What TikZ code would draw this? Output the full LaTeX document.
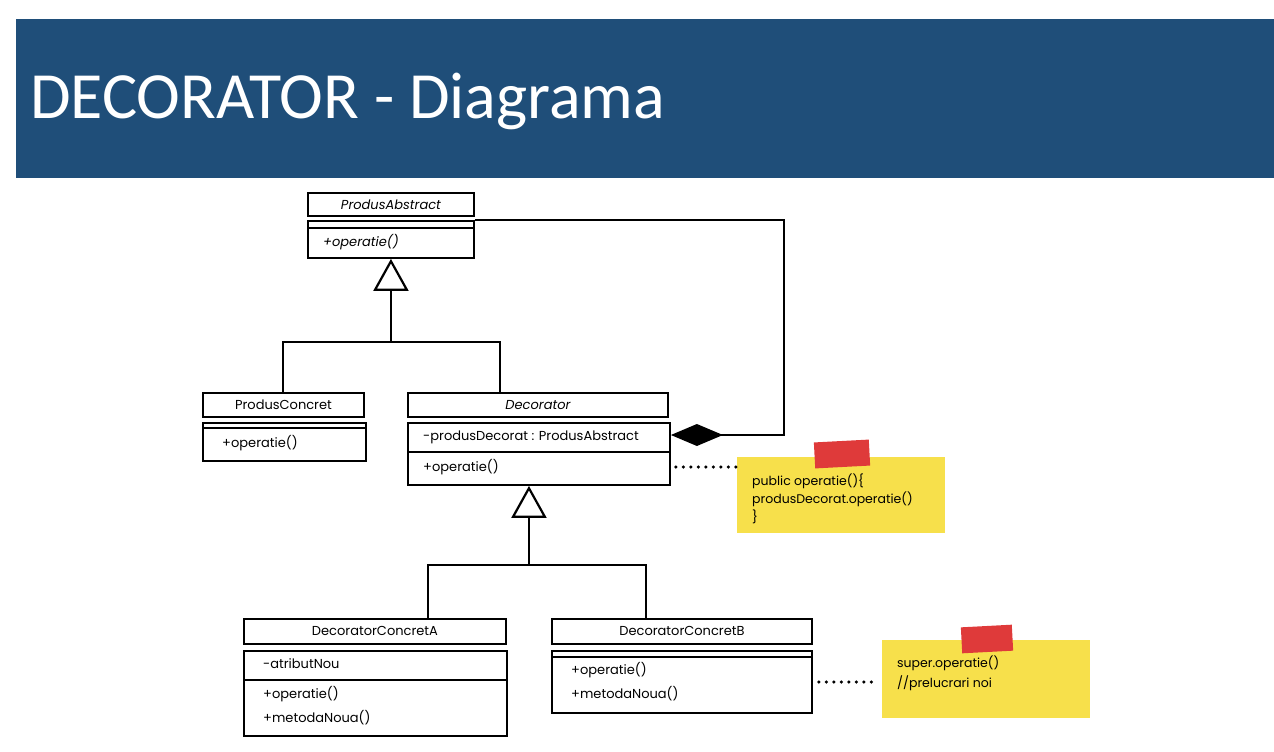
\documentclass[tikz,border=0pt]{standalone}
\usepackage{fontspec}
\setmainfont{Carlito}
\newfontfamily\sketchfont{Poppins}
\usetikzlibrary{arrows.meta,positioning}
\definecolor{bannerblue}{HTML}{1F4E79}
\definecolor{noteyellow}{HTML}{F7E04B}
\definecolor{tapered}{HTML}{DF3A3A}

\begin{document}
\begin{tikzpicture}[x=1pt,y=-1pt,
  classhead/.style={draw,line width=1.9pt,anchor=north west,inner sep=0pt,
    font=\sketchfont\fontsize{13}{15}\selectfont},
  classbody/.style={draw,line width=1.9pt,anchor=north west,inner sep=0pt},
  member/.style={anchor=west,inner sep=0pt,font=\sketchfont\fontsize{13}{15}\selectfont},
  sepline/.style={line width=1.5pt},
  link/.style={line width=2pt},
  generalize/.style={link,-{Triangle[open,length=32pt,width=35pt,line width=2.2pt]}},
  aggregate/.style={link,-{Diamond[length=52pt,width=22pt]}},
  notelink/.style={line width=3.5pt,line cap=round,dash pattern=on 0pt off 7.5pt},
  note/.style={fill=noteyellow,anchor=north west,inner sep=0pt},
  tape/.style={fill=tapered,inner sep=0pt,minimum width=55pt,minimum height=26pt},
  notetext/.style={anchor=west,inner sep=0pt,align=left,
    font=\sketchfont\fontsize{12.5}{14}\selectfont}]
\useasboundingbox (0,0) rectangle (1274,752);

% title banner
\fill[bannerblue] (16,19) rectangle (1274,178);
\node[anchor=base west,inner sep=0pt,text=white,font=\fontsize{66}{66}\selectfont] (title) at (30,118) {DECORATOR - Diagrama};

% ProdusAbstract
\node[classhead,minimum width=166pt,minimum height=23pt] (pahead) at (307,192) {\itshape ProdusAbstract};
\node[classbody,minimum width=166pt,minimum height=37pt] (pabody) at (307,220) {};
\draw[sepline] ([yshift=-8pt]pabody.north west) -- ([yshift=-8pt]pabody.north east);
\node[member] (paop) at ([xshift=16pt,yshift=-22pt]pabody.north west) {\itshape +operatie()};

% ProdusConcret
\node[classhead,minimum width=161pt,minimum height=24pt] (pchead) at (202,392) {ProdusConcret};
\node[classbody,minimum width=163pt,minimum height=38pt] (pcbody) at (202,422) {};
\draw[sepline] ([yshift=-6pt]pcbody.north west) -- ([yshift=-6pt]pcbody.north east);
\node[member] (pcop) at ([xshift=20pt,yshift=-21pt]pcbody.north west) {+operatie()};

% Decorator
\node[classhead,minimum width=260pt,minimum height=24pt] (dechead) at (407,392) {\itshape Decorator};
\node[classbody,minimum width=262pt,minimum height=62pt] (decbody) at (407,422) {};
\node[member] (decattr) at ([xshift=16pt,yshift=-15pt]decbody.north west) {-produsDecorat : ProdusAbstract};
\draw[sepline] ([yshift=-30pt]decbody.north west) -- ([yshift=-30pt]decbody.north east);
\node[member] (decop) at ([xshift=16pt,yshift=-45pt]decbody.north west) {+operatie()};

% DecoratorConcretA
\node[classhead,minimum width=262pt,minimum height=25pt] (dcahead) at (243,618) {DecoratorConcretA};
\node[classbody,minimum width=263pt,minimum height=85pt] (dcabody) at (243,650) {};
\node[member] (dcaattr) at ([xshift=20pt,yshift=-14pt]dcabody.north west) {-atributNou};
\draw[sepline] ([yshift=-30pt]dcabody.north west) -- ([yshift=-30pt]dcabody.north east);
\node[member] (dcaop) at ([xshift=20pt,yshift=-44pt]dcabody.north west) {+operatie()};
\node[member] (dcanew) at ([xshift=20pt,yshift=-68pt]dcabody.north west) {+metodaNoua()};

% DecoratorConcretB
\node[classhead,minimum width=260pt,minimum height=25pt] (dcbhead) at (551,618) {DecoratorConcretB};
\node[classbody,minimum width=260pt,minimum height=62pt] (dcbbody) at (551,650) {};
\draw[sepline] ([yshift=-7pt]dcbbody.north west) -- ([yshift=-7pt]dcbbody.north east);
\node[member] (dcbop) at ([xshift=20pt,yshift=-20pt]dcbbody.north west) {+operatie()};
\node[member] (dcbnew) at ([xshift=20pt,yshift=-44pt]dcbbody.north west) {+metodaNoua()};

% notes
\node[note,minimum width=208pt,minimum height=76pt] (note1) at (737,457) {};
\node[tape,rotate=3] (tape1) at (842,454) {};
\node[notetext] (note1txt) at ([xshift=15pt,yshift=-42pt]note1.north west)
  {public operatie()\{\\[2pt]produsDecorat.operatie()\\[2pt]\}};
\node[note,minimum width=208pt,minimum height=78pt] (note2) at (882,640) {};
\node[tape,rotate=3,minimum width=51pt] (tape2) at (987,639) {};
\node[notetext] (note2txt) at ([xshift=15pt,yshift=-33pt]note2.north west)
  {super.operatie()\\[4pt]//prelucrari noi};

% generalization
\coordinate (pajoin) at ([yshift=-83pt]pabody.south);
\draw[generalize] (pajoin) -- (pabody.south);
\draw[link] (pchead.north) |- (pajoin) -| ([xshift=93pt]dechead.north west);
\coordinate (decjoin) at ([xshift=-10pt,yshift=-79pt]decbody.south);
\draw[generalize] (decjoin) -- ([xshift=-10pt]decbody.south);
\draw[link] ([xshift=185pt]dcahead.north west) |- (decjoin) -| ([xshift=95pt]dcbhead.north west);

% aggregation
\draw[aggregate] (pabody.north east) -- ++(309,0) |- ([yshift=-13pt]decbody.north east);

% note links
\coordinate (declink) at ([yshift=-45pt]decbody.north east);
\draw[notelink] ([xshift=5pt]declink) -- (note1.west |- declink);
\coordinate (dcblink) at ([yshift=-32pt]dcbbody.north east);
\draw[notelink] ([xshift=6pt]dcblink) -- ([xshift=-4pt]note2.west |- dcblink);
\end{tikzpicture}
\end{document}
